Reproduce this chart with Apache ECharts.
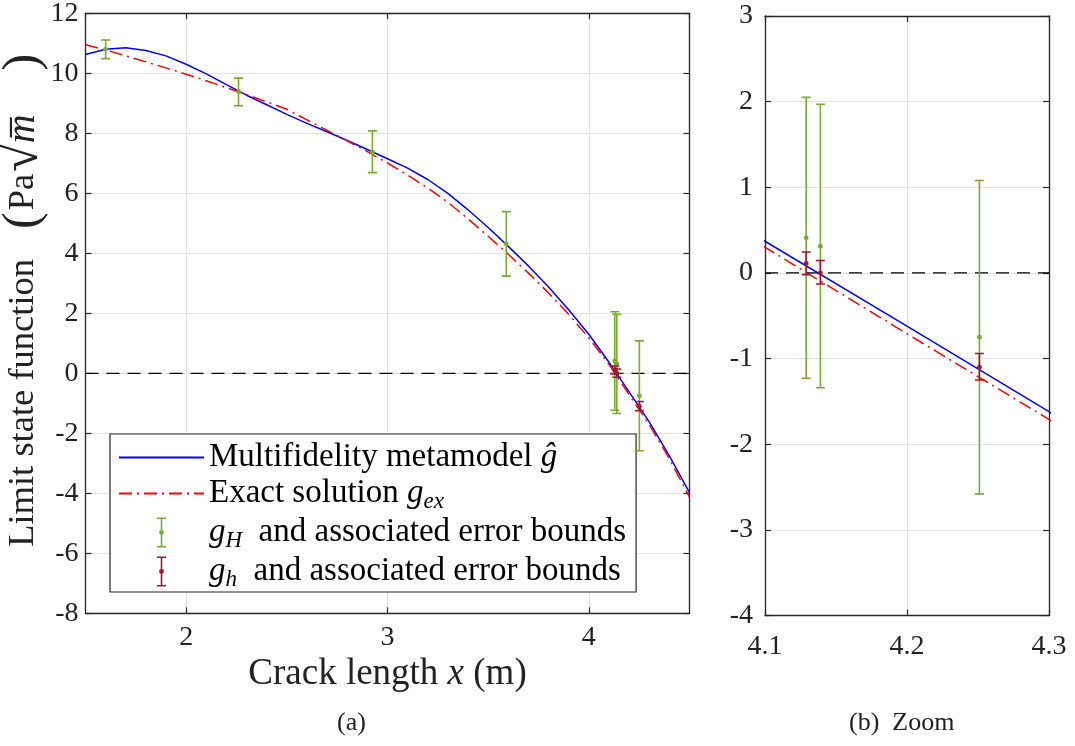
<!DOCTYPE html>
<html>
<head>
<meta charset="utf-8">
<script src="https://cdn.jsdelivr.net/npm/echarts@6/dist/echarts.min.js"></script>
<style>
html,body{margin:0;padding:0;background:#fff;}
#chart{width:1075px;height:746px;}
</style>
</head>
<body>
<div id="chart"></div>
<script>
// ---------- data ----------
const curveX  = [1.5, 1.6, 1.7, 1.8, 1.9, 2.0, 2.1, 2.2, 2.3, 2.4, 2.5, 2.6, 2.7, 2.8, 2.9, 3.0, 3.1, 3.2, 3.3, 3.4, 3.5, 3.6, 3.7, 3.8, 3.9, 4.0, 4.1, 4.2, 4.3, 4.4, 4.5];
const metaY   = [10.63, 10.80, 10.85, 10.76, 10.58, 10.30, 9.98, 9.62, 9.27, 8.95, 8.63, 8.33, 8.05, 7.76, 7.46, 7.15, 6.84, 6.46, 6.00, 5.45, 4.86, 4.23, 3.58, 2.88, 2.12, 1.30, 0.37, -0.62, -1.62, -2.75, -3.98];
const exactY  = [10.95, 10.78, 10.58, 10.38, 10.18, 9.97, 9.75, 9.52, 9.29, 9.05, 8.80, 8.45, 8.10, 7.75, 7.39, 7.01, 6.61, 6.18, 5.70, 5.15, 4.57, 3.97, 3.34, 2.68, 1.97, 1.18, 0.30, -0.71, -1.71, -2.85, -4.13];

const gHX  = [1.600, 2.260, 2.925, 3.590, 4.129, 4.139, 4.251];
const gHY  = [10.80, 9.39, 7.37, 4.31, 0.41, 0.31, -0.75];
const gHLo = [10.49, 8.92, 6.69, 3.24, -1.23, -1.34, -2.58];
const gHHi = [11.11, 9.84, 8.08, 5.39, 2.05, 1.97, 1.08];

const ghX  = [4.129, 4.139, 4.251];
const ghY  = [0.11, 0.00, -1.10];
const ghLo = [-0.02, -0.13, -1.25];
const ghHi = [0.245, 0.145, -0.94];

const zeroLevel = 0;
const mainXRange = [1.5, 4.5];
const mainYRange = [-8, 12];
const zoomXRange = [4.1, 4.3];
const zoomYRange = [-4, 3];

const nameMeta  = 'Multifidelity metamodel ĝ';
const nameExact = 'Exact solution g_ex';
const nameGH    = 'g_H and associated error bounds';
const nameGh    = 'g_h and associated error bounds';

// ---------- style ----------
const FONT = '"Liberation Serif", "Times New Roman", serif';
const BLUE = '#0000FF', RED = '#FF0000', GREEN = '#77AC30', DARKRED = '#A2142F';
const AXC = '#262626', GRIDC = '#e3e3e3';
const DASHDOT = [13, 5, 2, 5];

function rows(xs, ys, lo, hi, range) {
  const out = [];
  xs.forEach((x, i) => {
    if (!range || (x >= range[0] && x <= range[1])) out.push([x, ys[i], lo[i], hi[i]]);
  });
  return out;
}
function errRender(color, capHalf) {
  return function (params, api) {
    const x = api.value(0);
    const c = api.coord([x, api.value(1)]);
    const l = api.coord([x, api.value(2)]);
    const h = api.coord([x, api.value(3)]);
    const st = { stroke: color, lineWidth: 1.6, fill: null };
    return {
      type: 'group',
      children: [
        { type: 'line', shape: { x1: l[0], y1: l[1], x2: h[0], y2: h[1] }, style: st },
        { type: 'line', shape: { x1: h[0] - capHalf, y1: h[1], x2: h[0] + capHalf, y2: h[1] }, style: st },
        { type: 'line', shape: { x1: l[0] - capHalf, y1: l[1], x2: l[0] + capHalf, y2: l[1] }, style: st },
        { type: 'circle', shape: { cx: c[0], cy: c[1], r: 2.4 }, style: { fill: color, stroke: null } }
      ]
    };
  };
}
const errIcon = 'path://M0.5,0 H9.5 V1.6 H0.5 Z M4.2,0 H5.8 V30 H4.2 Z M0.5,28.4 H9.5 V30 H0.5 Z M7.4,15 A2.4,2.4 0 1,1 2.6,15 A2.4,2.4 0 1,1 7.4,15 Z';

function lineSeries(name, ys, color, type, idx) {
  return {
    name: name, type: 'line', xAxisIndex: idx, yAxisIndex: idx,
    data: curveX.map((x, i) => [x, ys[i]]),
    symbol: 'none', showSymbol: false, smooth: false,
    lineStyle: { color: color, width: 1.5, type: type },
    itemStyle: { color: color }, clip: true, silent: true, z: 3
  };
}
function zeroSeries(range, idx) {
  return {
    name: 'zero', type: 'line', xAxisIndex: idx, yAxisIndex: idx,
    data: [[range[0], zeroLevel], [range[1], zeroLevel]],
    symbol: 'none', lineStyle: { color: '#000', width: 1.3, type: [13, 8] },
    itemStyle: { color: '#000' }, silent: true, z: 2
  };
}
function errSeries(name, data, color, idx) {
  return {
    name: name, type: 'custom', xAxisIndex: idx, yAxisIndex: idx,
    data: data, renderItem: errRender(color, 4.5), itemStyle: { color: color },
    clip: true, silent: true, z: 5
  };
}

const tickLbl = (size) => ({ fontFamily: FONT, fontSize: size, color: '#222' });

function xAx(grid, pos, range, extra, labels, margin, edgeLabels) {
  return Object.assign({
    type: 'value', gridIndex: grid, position: pos, min: range[0], max: range[1],
    axisLine: { show: true, onZero: false, lineStyle: { color: AXC, width: 1.3 } },
    axisTick: { show: true, inside: true, length: 6, lineStyle: { color: AXC, width: 1.2 } },
    axisLabel: Object.assign({ show: labels, margin: margin, showMinLabel: edgeLabels, showMaxLabel: edgeLabels }, tickLbl(28)),
    splitLine: { show: labels, lineStyle: { color: GRIDC, width: 1 } }
  }, extra);
}
function yAx(grid, pos, range, interval, labels, margin) {
  return {
    type: 'value', gridIndex: grid, position: pos, min: range[0], max: range[1], interval: interval,
    axisLine: { show: true, onZero: false, lineStyle: { color: AXC, width: 1.3 } },
    axisTick: { show: true, inside: true, length: 6, lineStyle: { color: AXC, width: 1.2 } },
    axisLabel: Object.assign({ show: labels, margin: margin }, tickLbl(28)),
    splitLine: { show: labels, lineStyle: { color: GRIDC, width: 1 } }
  };
}

const richBase = {
  n:   { fontFamily: FONT, fontSize: 33, color: '#000', lineHeight: 30 },
  i:   { fontFamily: FONT, fontSize: 33, fontStyle: 'italic', color: '#000', lineHeight: 30 },
  sub: { fontFamily: FONT, fontSize: 23, fontStyle: 'italic', color: '#000', lineHeight: 14, padding: [16, 0, 0, 0] }
};
const legendText = {};
legendText[nameMeta]  = '{n|Multifidelity metamodel }{i|ĝ}';
legendText[nameExact] = '{n|Exact solution }{i|g}{sub|ex}';
legendText[nameGH]    = '{i|g}{sub|H}{n|  and associated error bounds}';
legendText[nameGh]    = '{i|g}{sub|h}{n|  and associated error bounds}';

const option = {
  animation: false,
  backgroundColor: '#fff',
  title: [
    { text: '(a)', left: 332, top: 705, textStyle: { fontFamily: FONT, fontSize: 26, fontWeight: 'normal', color: '#222' } },
    { text: '(b)  Zoom', left: 844, top: 705, textStyle: { fontFamily: FONT, fontSize: 26, fontWeight: 'normal', color: '#222' } }
  ],
  grid: [
    { left: 85.5, top: 13.3, width: 604, height: 600, containLabel: false, outerBoundsMode: 'none' },
    { left: 765, top: 16, width: 284, height: 599.5, containLabel: false, outerBoundsMode: 'none' }
  ],
  xAxis: [
    xAx(0, 'bottom', mainXRange, { minInterval: 1, maxInterval: 1,
      name: '{n|Crack length }{i|x}{n| (m)}', nameLocation: 'middle', nameGap: 42,
      nameTextStyle: { rich: { n: { fontFamily: FONT, fontSize: 37, color: '#222' }, i: { fontFamily: FONT, fontSize: 37, fontStyle: 'italic', color: '#222' } } } }, true, 10, false),
    xAx(0, 'top', mainXRange, { minInterval: 1, maxInterval: 1 }, false, 10, false),
    xAx(1, 'bottom', zoomXRange, { interval: 0.1 }, true, 17, true),
    xAx(1, 'top', zoomXRange, { interval: 0.1 }, false, 10, true)
  ],
  yAxis: [
    yAx(0, 'left', mainYRange, 2, true, 7),
    yAx(0, 'right', mainYRange, 2, false, 7),
    yAx(1, 'left', zoomYRange, 1, true, 12),
    yAx(1, 'right', zoomYRange, 1, false, 12)
  ],
  legend: {
    orient: 'vertical', left: 110, top: 434,
    padding: [7, 10, 1, 8], itemGap: 0, itemWidth: 85, itemHeight: 30,
    borderColor: AXC, borderWidth: 1.2, borderRadius: 0, backgroundColor: '#fff',
    selectedMode: false,
    data: [
      { name: nameMeta, itemStyle: { opacity: 0 } },
      { name: nameExact, itemStyle: { opacity: 0 } },
      { name: nameGH, icon: errIcon }, { name: nameGh, icon: errIcon }
    ],
    formatter: function (n) { return legendText[n] || n; },
    textStyle: { fontFamily: FONT, fontSize: 33, color: '#000', rich: richBase }
  },
  series: [
    lineSeries(nameMeta, metaY, BLUE, 'solid', 0),
    lineSeries(nameExact, exactY, RED, DASHDOT, 0),
    zeroSeries(mainXRange, 0),
    errSeries(nameGH, rows(gHX, gHY, gHLo, gHHi), GREEN, 0),
    errSeries(nameGh, rows(ghX, ghY, ghLo, ghHi), DARKRED, 0),
    lineSeries(nameMeta, metaY, BLUE, 'solid', 2),
    lineSeries(nameExact, exactY, RED, DASHDOT, 2),
    zeroSeries(zoomXRange, 2),
    errSeries(nameGH, rows(gHX, gHY, gHLo, gHHi, zoomXRange), GREEN, 2),
    errSeries(nameGh, rows(ghX, ghY, ghLo, ghHi, zoomXRange), DARKRED, 2)
  ]
};
// y axis name (left panel)
option.yAxis[0].name = '{n|Limit state function}{p|(}{n|Pa}{sq|√}{m|m\u0305}{pr|)}';
option.yAxis[0].nameLocation = 'middle';
option.yAxis[0].nameGap = 42;
option.yAxis[0].nameMoveOverlap = false;
option.yAxis[0].nameTextStyle = {
  fontFamily: FONT, fontSize: 36.5, color: '#222', lineHeight: 40, padding: [0, 0, 0, 26],
  rich: {
    n:  { fontFamily: FONT, fontSize: 36.5, color: '#222', lineHeight: 40 },
    p:  { fontFamily: FONT, fontSize: 50, color: '#222', lineHeight: 40, padding: [0, 2, 0, 30] },
    sq: { fontFamily: FONT, fontSize: 52, color: '#222', lineHeight: 40, padding: [0, 0, 0, 2] },
    m:  { fontFamily: FONT, fontSize: 40, fontStyle: 'italic', color: '#222', lineHeight: 40 },
    pr: { fontFamily: FONT, fontSize: 50, color: '#222', lineHeight: 40, padding: [0, 0, 0, 44] }
  }
};

const chart = echarts.init(document.getElementById('chart'), null, { renderer: 'canvas' });
chart.setOption(option);
</script>
</body>
</html>
